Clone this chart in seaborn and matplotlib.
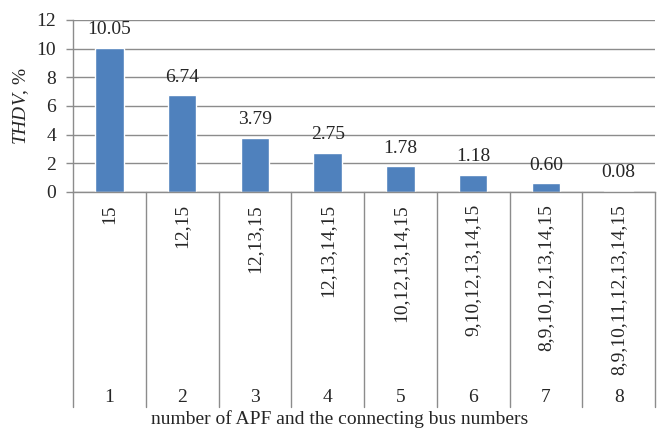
import pandas as pd
import seaborn as sns
import matplotlib.pyplot as plt
import matplotlib.transforms as mtransforms

# chart data
apf_count = ['1', '2', '3', '4', '5', '6', '7', '8']
bus_numbers = ['15', '12,15', '12,13,15', '12,13,14,15', '10,12,13,14,15',
               '9,10,12,13,14,15', '8,9,10,12,13,14,15', '8,9,10,11,12,13,14,15']
thdv = [10.05, 6.74, 3.79, 2.75, 1.78, 1.18, 0.60, 0.08]
y_ticks = [0, 2, 4, 6, 8, 10, 12]

df = pd.DataFrame({'bus': bus_numbers, 'n': apf_count, 'thdv': thdv})

sns.set_style('white')
plt.rcParams['font.family'] = ['Liberation Serif', 'DejaVu Serif']
plt.rcParams['mathtext.fontset'] = 'custom'
plt.rcParams['mathtext.rm'] = 'Liberation Serif'
plt.rcParams['mathtext.it'] = 'Liberation Serif:italic'
fs = 14
grid_col = '#8c8c8c'

fig = plt.figure(figsize=(6.58, 4.30), dpi=100)
ax = fig.add_axes([73 / 658, 1 - 192 / 430, (655 - 73) / 658, 172 / 430])

sns.barplot(data=df, x='bus', y='thdv', order=bus_numbers, color='#4F81BD',
            saturation=1, width=0.39, ax=ax)

ax.set_ylim(0, 12)
ax.set_xlim(-0.5, len(bus_numbers) - 0.5)
ax.set_yticks(y_ticks)
ax.set_yticklabels([str(t) for t in y_ticks], fontsize=fs)
ax.yaxis.grid(True, color=grid_col, linewidth=1)
ax.set_axisbelow(True)
ax.tick_params(axis='y', length=5, width=1, color=grid_col, pad=7, left=True)
ax.set_xticks([])
ax.set_xlabel('')
ax.set_ylabel(r'$\mathit{THDV}$, %', fontsize=fs, labelpad=4)

for side in ['top', 'right']:
    ax.spines[side].set_visible(False)
ax.spines['left'].set_color(grid_col)
ax.spines['bottom'].set_color(grid_col)
ax.spines['left'].set_linewidth(1)
ax.spines['bottom'].set_linewidth(1)

# value labels
for c in ax.containers:
    ax.bar_label(c, labels=['%.2f' % v for v in thdv], padding=7, fontsize=fs)

# category labels and separators below the axis
trans = mtransforms.blended_transform_factory(ax.transData, ax.transAxes)
bottom = -(407 - 192) / 172
for i, (b, n) in enumerate(zip(bus_numbers, apf_count)):
    ax.text(i, -12 / 172, b, rotation=90, ha='center', va='top',
            fontsize=fs, transform=trans)
    ax.text(i, -(397 - 192) / 172, n, ha='center', va='center',
            fontsize=fs, transform=trans)
for k in range(len(bus_numbers) + 1):
    ax.plot([k - 0.5, k - 0.5], [0, bottom], color=grid_col, linewidth=1,
            transform=trans, clip_on=False)

fig.text(339.5 / 658, 2 / 430,
         'number of APF and the connecting bus numbers',
         ha='center', va='bottom', fontsize=fs)

fig.savefig('out.png', dpi=100)
